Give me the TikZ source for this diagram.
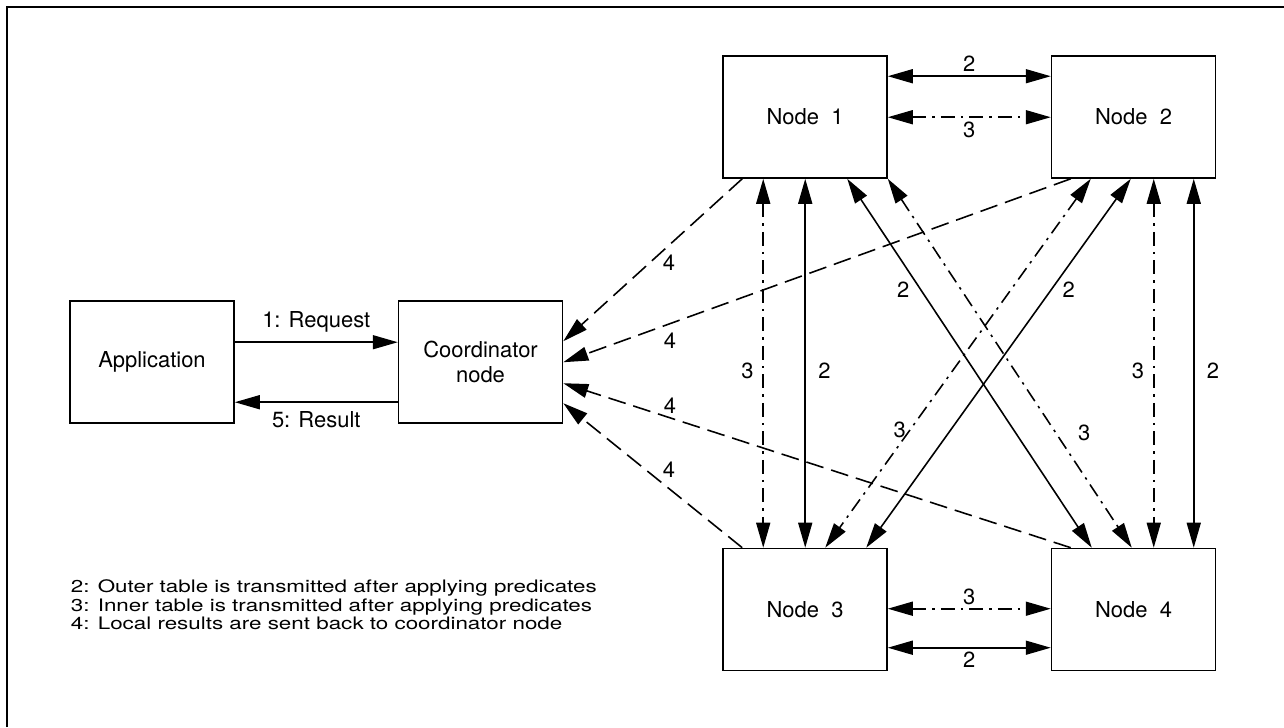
\documentclass[tikz,border=0pt]{standalone}
\usepackage{fontspec}
\setmainfont{TeX Gyre Heros}
\newfontfamily\legendfont[FakeStretch=1.3]{TeX Gyre Heros}
\usetikzlibrary{positioning, arrows.meta, calc}

\begin{document}
\begin{tikzpicture}[
    x=0.02cm, y=-0.02cm,
    node distance=3.26cm,
    box/.style={rectangle, draw, line width=0.9pt, minimum width=3.28cm, minimum height=2.44cm, align=center, font=\fontsize{12.5}{14}\selectfont},
    arrow/.style={line width=0.9pt, >={Triangle[length=5mm, width=2.8mm]}},
    dashdot/.style={arrow, dash pattern=on 2.8mm off 1.2mm on 0.5mm off 1.2mm},
    back/.style={arrow, dash pattern=on 3.6mm off 1.6mm},
    lbl/.style={font=\fontsize{12.5}{14}\selectfont, inner sep=2pt}
]
\useasboundingbox (0,0) rectangle (1284,727);
% Frame
\draw[line width=1.4pt] (7,727) -- (7,7) -- (1284,7);

% Boxes
\node[box] (app) at (152,362) {Application};
\node[box, right=of app] (coord) {Coordinator\\node};
\node[box] (n1) at (805,117) {Node\ \ 1};
\node[box, right=of n1] (n2) {Node\ \ 2};
\node[box, below=7.38cm of n1] (n3) {Node\ \ 3};
\node[box, right=of n3] (n4) {Node\ \ 4};

% Request and result
\draw[arrow, ->] ($(app.north east)+(0,42)$) -- ($(coord.north west)+(0,42)$) node[midway, above=3pt, lbl] {1: Request};
\draw[arrow, ->] ($(coord.north west)+(0,102)$) -- ($(app.north east)+(0,102)$) node[midway, below=3pt, lbl] {5: Result};

% Horizontal transfers
\draw[arrow, <->] ($(n1.north east)+(0,21)$) -- ($(n2.north west)+(0,21)$) node[midway, above, lbl] {2};
\draw[dashdot, <->] ($(n1.north east)+(0,62)$) -- ($(n2.north west)+(0,62)$) node[midway, below, lbl] {3};
\draw[dashdot, <->] ($(n3.north east)+(0,61)$) -- ($(n4.north west)+(0,61)$) node[midway, above, lbl] {3};
\draw[arrow, <->] ($(n3.north east)+(0,100)$) -- ($(n4.north west)+(0,100)$) node[midway, below, lbl] {2};

% Vertical transfers
\draw[dashdot, <->] ($(n1.south west)+(41,0)$) -- ($(n3.north west)+(41,0)$) node[pos=0.52, left=3pt, lbl] {3};
\draw[arrow, <->] ($(n1.south west)+(83,0)$) -- ($(n3.north west)+(83,0)$) node[pos=0.52, right=5pt, lbl] {2};
\draw[dashdot, <->] ($(n2.south west)+(103,0)$) -- ($(n4.north west)+(103,0)$) node[pos=0.52, left=3pt, lbl] {3};
\draw[arrow, <->] ($(n2.south west)+(143,0)$) -- ($(n4.north west)+(143,0)$) node[pos=0.52, right=5pt, lbl] {2};

% Diagonal transfers
\draw[arrow, <->] ($(n1.south west)+(125,0)$) -- ($(n4.north west)+(41,0)$) node[pos=0.3, left=4pt, lbl] {2};
\draw[dashdot, <->] (n1.south east) -- ($(n4.north west)+(81,0)$) node[pos=0.69, right=10pt, lbl] {3};
\draw[arrow, <->] ($(n2.south west)+(80,0)$) -- ($(n3.north west)+(144,0)$) node[pos=0.3, right=4pt, lbl] {2};
\draw[dashdot, <->] ($(n2.south west)+(40,0)$) -- ($(n3.north west)+(103,0)$) node[pos=0.68, left, lbl] {3};

% Local results back to coordinator
\draw[back, ->] ($(n1.south west)+(20,0)$) -- ($(coord.north east)+(0,41)$) node[pos=0.41, below=3pt, lbl] {4};
\draw[back, ->] ($(n2.south west)+(20,0)$) -- ($(coord.north east)+(0,62)$) node[pos=0.79, below=3pt, lbl] {4};
\draw[back, ->] ($(n4.north west)+(20,0)$) -- ($(coord.north east)+(0,83)$) node[pos=0.79, above, lbl] {4};
\draw[back, ->] ($(n3.north west)+(20,0)$) -- ($(coord.north east)+(0,103)$) node[pos=0.41, above=4pt, lbl] {4};

% Legend
\node[anchor=north west, align=left, inner sep=2pt, font=\legendfont\fontsize{9.8}{10.6}\selectfont] (legend) at (67,576) {2: Outer table is transmitted after applying predicates\\3: Inner table is transmitted after applying predicates\\4: Local results are sent back to coordinator node};
\end{tikzpicture}
\end{document}
